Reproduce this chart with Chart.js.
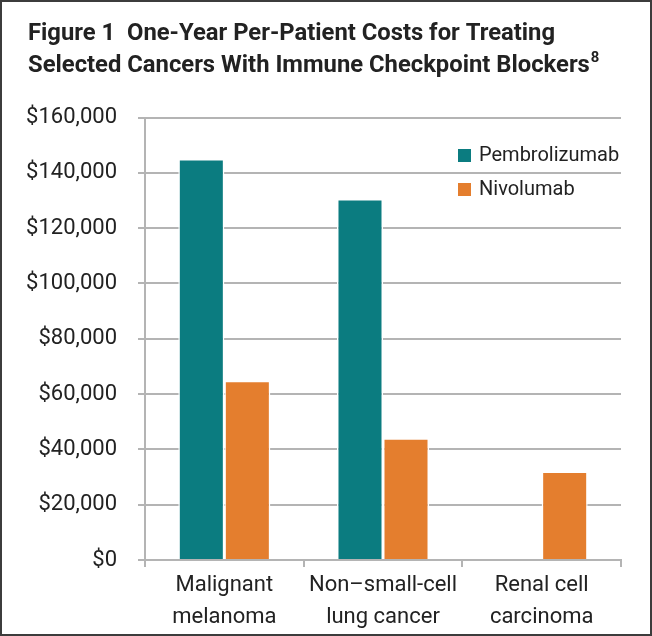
<!DOCTYPE html>
<html>
<head>
<meta charset="utf-8">
<style>
  html, body { margin: 0; padding: 0; background: #fff; }
  #wrap { width: 652px; height: 636px; position: relative; }
</style>
<script src="https://cdn.jsdelivr.net/npm/chart.js@4.4.1/dist/chart.umd.min.js"></script>
</head>
<body>
<div id="wrap"><canvas id="chart" width="652" height="636"></canvas></div>
<script>
// Chart data
const categories = [['Malignant', 'melanoma'], ['Non\u2013small-cell', 'lung cancer'], ['Renal cell', 'carcinoma']];
const seriesNames = ['Pembrolizumab', 'Nivolumab'];
const pembrolizumab = [145000, 130500, null];
const nivolumab = [64800, 44000, 32000];
const yTicks = [0, 20000, 40000, 60000, 80000, 100000, 120000, 140000, 160000];
const titleLines = ['Figure 1  One-Year Per-Patient Costs for Treating', 'Selected Cancers With Immune Checkpoint Blockers'];
const titleNote = '8';

const TEAL = '#0b7c80';
const ORANGE = '#e47e2e';
const GRID = '#b4b4b4';
const TEXT = '#222222';
const BODY_FONT = 'Roboto, "Noto Sans", sans-serif';

// Title, frame and in-plot legend
const decorations = {
    id: 'decorations',
    afterDraw(chart) {
        const ctx = chart.ctx;
        ctx.save();

        // outer frame
        ctx.strokeStyle = '#3c3c3c';
        ctx.lineWidth = 2;
        ctx.strokeRect(1, 1, chart.width - 2, chart.height - 2);

        // title, condensed by a horizontal scale
        ctx.fillStyle = TEXT;
        ctx.textBaseline = 'alphabetic';
        ctx.textAlign = 'left';
        ctx.font = 'bold 24px ' + BODY_FONT;
        const sx = 527 / ctx.measureText(titleLines[0]).width;
        ctx.translate(28, 0);
        ctx.scale(sx, 1);
        ctx.fillText(titleLines[0], 0, 40);
        ctx.fillText(titleLines[1], 0, 72);
        const w2 = ctx.measureText(titleLines[1]).width;
        ctx.font = 'bold 15px ' + BODY_FONT;
        ctx.fillText(titleNote, w2 + 1, 62);
        ctx.setTransform(1, 0, 0, 1, 0, 0);

        // legend
        const items = chart.data.datasets;
        ctx.font = '20px ' + BODY_FONT;
        ctx.textBaseline = 'middle';
        items.forEach(function(ds, i) {
            const y = 156 + i * 34;
            ctx.fillStyle = ds.backgroundColor;
            ctx.fillRect(458, y - 7, 13, 13);
            ctx.fillStyle = TEXT;
            ctx.fillText(ds.label, 479, y);
        });
        ctx.restore();
    }
};

new Chart(document.getElementById('chart'), {
    type: 'bar',
    data: {
        labels: categories,
        datasets: [{
            label: seriesNames[0],
            data: pembrolizumab,
            backgroundColor: TEAL,
            borderColor: '#ffffff',
            borderWidth: 1.5,
            borderSkipped: 'start'
        }, {
            label: seriesNames[1],
            data: nivolumab,
            backgroundColor: ORANGE,
            borderColor: '#ffffff',
            borderWidth: 1.5,
            borderSkipped: 'start'
        }]
    },
    options: {
        responsive: false,
        animation: false,
        layout: {
            padding: { top: 117.5, right: 31, bottom: 0, left: 0 }
        },
        plugins: {
            legend: { display: false },
            title: { display: false },
            tooltip: { enabled: false }
        },
        datasets: {
            bar: { categoryPercentage: 0.58, barPercentage: 1 }
        },
        scales: {
            x: {
                afterFit: function(scale) { scale.height = 76; },
                grid: {
                    offset: true,
                    drawOnChartArea: false,
                    drawTicks: true,
                    tickLength: 7,
                    color: GRID,
                    lineWidth: 2
                },
                border: { display: true, color: GRID, width: 2 },
                ticks: {
                    color: TEXT,
                    padding: 3,
                    maxRotation: 0,
                    font: { family: BODY_FONT, size: 22, lineHeight: 1.45 }
                }
            },
            y: {
                min: 0,
                max: 160000,
                afterFit: function(scale) { scale.width = 145; },
                afterBuildTicks: function(scale) {
                    scale.ticks = yTicks.map(function(v) { return { value: v }; });
                },
                grid: {
                    color: GRID,
                    lineWidth: 2,
                    drawTicks: true,
                    tickLength: 7
                },
                border: { display: true, color: GRID, width: 2 },
                ticks: {
                    color: TEXT,
                    padding: 21,
                    font: { family: BODY_FONT, size: 22 },
                    callback: function(value) {
                        return '$' + value.toLocaleString('en-US');
                    }
                }
            }
        }
    },
    plugins: [decorations]
});
</script>
</body>
</html>
